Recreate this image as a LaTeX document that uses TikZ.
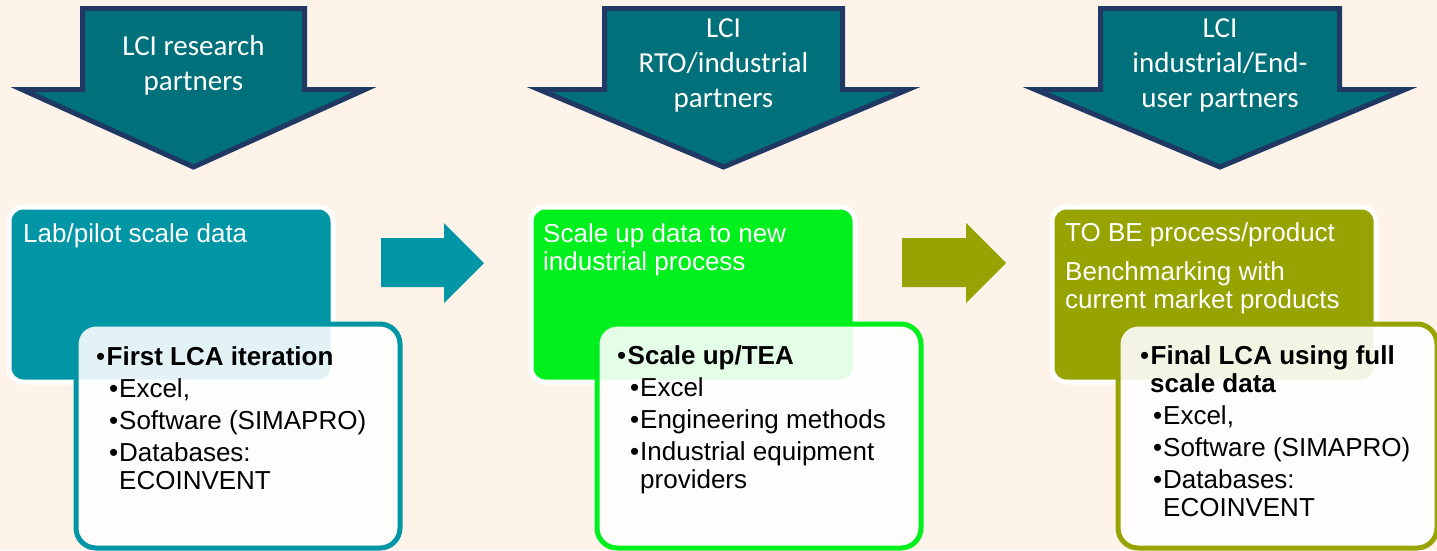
\documentclass[tikz,border=0pt]{standalone}
\usepackage{fontspec}
\setmainfont{Liberation Sans}
\newfontfamily\calibri{Carlito}
\usepackage{tikz}

\definecolor{peach}{HTML}{FEF3E9}
\definecolor{lcifill}{HTML}{00707A}
\definecolor{lciline}{HTML}{1F3864}
\definecolor{labteal}{HTML}{0096A5}
\definecolor{scalegreen}{HTML}{00F01E}
\definecolor{tobeolive}{HTML}{97A300}

\newcommand{\lvlone}[1]{\makebox[10.5pt][l]{•}#1}
\newcommand{\lvltwo}[1]{\hspace*{13pt}\makebox[10pt][l]{•}#1}
\newcommand{\lvlwrap}[1]{\hspace*{23pt}#1}

\begin{document}
\begin{tikzpicture}[x=1pt,y=-1pt]
\tikzstyle{lciarrow}=[fill=lcifill,draw=lciline,line width=5pt,miter limit=10]
\tikzstyle{lcitext}=[text=white,font=\calibri\fontsize{29}{35}\selectfont,align=center,anchor=base,inner sep=0pt]
\tikzstyle{stagebox}=[rectangle,rounded corners=14pt,draw=white,line width=5pt,inner sep=0pt,minimum width=324pt,minimum height=175pt,anchor=north west]
\tikzstyle{toolbox}=[rectangle,rounded corners=20pt,fill=white,fill opacity=0.89,line width=5pt,inner sep=0pt,minimum height=224pt,anchor=north west]
\tikzstyle{stagetext}=[text=white,font=\fontsize{26}{28}\selectfont,align=left,anchor=base west,inner sep=0pt]
\tikzstyle{tooltext}=[text=black,font=\fontsize{26}{28}\selectfont,align=left,anchor=base west,inner sep=0pt]

\fill[peach] (0,0) rectangle (1437,550);
\useasboundingbox (0,0) rectangle (1437,550);

% LCI arrows (text nodes sit on the baseline of their last line)
\draw[lciarrow] (82.5,8.5) -- (304.5,8.5) -- (304.5,89.5) -- (365,89.5) -- (193.5,167) -- (22,89.5) -- (82.5,89.5) -- cycle;
\draw[lciarrow] (604.5,8.5) -- (842.5,8.5) -- (842.5,89.5) -- (908,89.5) -- (723.5,167) -- (539,89.5) -- (604.5,89.5) -- cycle;
\draw[lciarrow] (1100.5,8.5) -- (1339.5,8.5) -- (1339.5,89.5) -- (1405,89.5) -- (1220,167) -- (1035,89.5) -- (1100.5,89.5) -- cycle;
\node[lcitext] (lci1) at (193.5,90) {LCI research\\partners};
\node[lcitext] (lci2) at (723.5,107) {LCI\\RTO/industrial\\partners};
\node[lcitext] (lci3) at (1220,107) {LCI\\industrial/End-\\user partners};

% stages
\node[stagebox,fill=labteal] (lab) at (6.5,204.5) {};
\node[stagebox,fill=scalegreen] (scaleup) at (528.5,204.5) {};
\node[stagebox,fill=tobeolive] (tobe) at (1049.5,204.5) {};

% flow arrows
\fill[labteal] (381,238) -- (444,238) -- (444,223) -- (484,263) -- (444,303) -- (444,287) -- (381,287) -- cycle;
\fill[tobeolive] (902,238) -- (966,238) -- (966,223) -- (1006,263) -- (966,303) -- (966,287) -- (902,287) -- cycle;

% tools
\node[toolbox,draw=labteal,minimum width=324pt] (tool1) at (73.5,321.5) {};
\node[toolbox,draw=scalegreen,minimum width=324pt] (tool2) at (594.5,321.5) {};
\node[toolbox,draw=tobeolive,minimum width=319pt] (tool3) at (1115.5,321.5) {};

% texts
\node[stagetext] (labtxt) at (23,242) {Lab/pilot scale data};
\node[stagetext] (scaletxt) at (543,270) {Scale up data to new\\industrial process};
\node[stagetext] (tobetxt) at (1065,308) {TO BE process/product\\[11pt]Benchmarking with\\current market products};

\node[tooltext] (tool1txt) at (96,489) {\lvlone{\textbf{First LCA iteration}}\\[4pt]
\lvltwo{Excel,}\\[4pt]
\lvltwo{Software (SIMAPRO)}\\[4pt]
\lvltwo{Databases:}\\
\lvlwrap{ECOINVENT}};
\node[tooltext] (tool2txt) at (617,488) {\lvlone{\textbf{Scale up/TEA}}\\[4pt]
\lvltwo{Excel}\\[4pt]
\lvltwo{Engineering methods}\\[4pt]
\lvltwo{Industrial equipment}\\
\lvlwrap{providers}};
\node[tooltext] (tool3txt) at (1140,516) {\lvlone{\textbf{Final LCA using full}}\\
\lvlwrap{\hspace*{-13pt}\textbf{scale data}}\\[4pt]
\lvltwo{Excel,}\\[4pt]
\lvltwo{Software (SIMAPRO)}\\[4pt]
\lvltwo{Databases:}\\
\lvlwrap{ECOINVENT}};
\end{tikzpicture}
\end{document}
